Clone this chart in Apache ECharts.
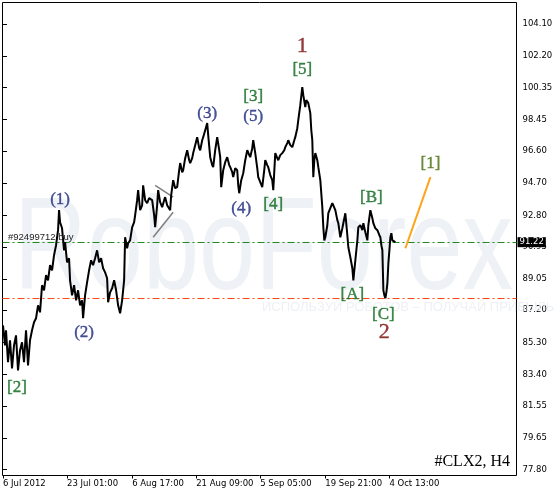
<!DOCTYPE html>
<html>
<head>
<meta charset="utf-8">
<script src="https://cdn.jsdelivr.net/npm/echarts@6/dist/echarts.min.js"></script>
<style>
html,body{margin:0;padding:0;background:#fff;}
#chart{width:556px;height:492px;}
</style>
</head>
<body>
<div id="chart"></div>
<script>
// ---- data (H4 bar index, price) ----
const bars = [0,2,3,5,7,9,11,13,15,17,19,21,23,25,27,29,31,33,35,37,39,41,43,45,47,49,51,53,55,56,57,59,61,62,64,66,67,69,71,73,75,77,79,80,82,84,86,88,90,92,94,96,98,100,102,104,105,107,109,111,113,115,117,119,121,122,124,125,127,129,131,132,134,135,137,139,140,142,144,146,149,151,152,154,155,157,159,161,162,164,167,168,170,172,174,176,177,179,180,182,184,186,187,189,190,192,194,196,197,199,200,202,204,205,207,209,210,212,214,216,217,218,220,222,224,226,227,229,230,232,234,235,236,238,240,242,244,246,247,249,250,252,254,255,257,259,261,262,264,265,267,269,270,272,274,275,277,279,281,282,284,285,287,289,291,292,294,295,297,299,300,302,303,305,307,308,309,310,311,312,314,315,317,319,320,321,322,324,325,327,329,330,332,334,335,337,339,340,342,344,345,347,349,350,351,352,354,355,357,359,360,362,364,365,367,369,370,372,374,376,377,378,379,380,381,382,383,384,385,386,387,388,389,390,392];
const prices = [86.31,85.13,86.02,84.13,85.43,83.77,85.13,85.72,83.65,84.83,85.31,84.13,86.02,83.95,85.43,86.02,86.49,86.73,87.49,87.08,88.68,88.38,89.27,88.97,89.86,89.56,90.45,91.04,91.93,93.11,92.40,92.04,90.74,91.22,90.03,90.27,88.97,88.08,88.68,87.79,88.38,87.49,87.79,86.73,88.08,88.85,89.56,90.15,89.86,90.27,90.74,90.03,90.27,89.68,89.44,89.09,87.67,88.26,88.50,88.97,88.38,87.49,87.02,87.79,88.97,91.51,90.86,91.16,91.33,92.10,92.40,92.81,93.70,94.29,93.11,93.40,94.58,93.70,93.52,93.82,93.70,92.81,92.10,93.40,94.29,93.58,93.29,93.70,93.88,93.40,93.11,93.99,94.88,94.41,94.47,95.47,95.89,95.35,95.47,96.18,96.65,96.06,95.89,96.18,96.48,96.95,97.42,96.77,96.65,97.24,97.42,97.83,98.25,97.54,96.24,95.77,95.65,96.65,97.42,96.65,96.24,94.47,95.47,95.94,96.24,95.77,95.65,95.35,95.06,95.59,95.47,94.58,94.11,94.88,95.29,96.06,96.65,96.36,96.24,96.77,97.24,96.48,95.59,95.06,94.76,94.47,95.47,96.06,95.77,95.65,95.18,94.88,94.29,96.48,96.18,96.06,96.36,96.48,96.65,96.83,97.07,97.24,96.95,96.83,97.24,97.42,97.95,98.43,99.31,100.38,99.90,99.19,99.61,99.43,98.84,97.83,97.24,95.06,96.06,96.48,96.06,95.65,94.88,93.29,92.10,91.33,91.51,92.22,92.93,93.23,93.52,93.40,93.11,92.52,92.34,91.51,92.04,92.34,92.93,91.63,90.92,90.33,89.68,88.97,89.56,90.15,91.33,92.10,92.22,91.93,92.34,91.81,91.33,92.22,93.11,92.63,92.34,92.04,91.93,91.63,91.51,91.04,90.74,88.38,88.08,87.91,88.26,88.79,89.97,90.74,91.51,91.75,91.33,91.33,91.22];

const xTickBars = [0,64,129,193,257,322,386];
const xTickLabels = ['6 Jul 2012','23 Jul 01:00','6 Aug 17:00','21 Aug 09:00','5 Sep 05:00','19 Sep 21:00','4 Oct 13:00'];
const yTickLabels = ['77.80','79.65','81.55','83.40','85.30','87.20','89.05','90.95','92.80','94.70','96.60','98.45','100.35','102.20','104.10'];
const yTickValues = yTickLabels.map(Number);

const currentPrice = 91.22;
const orderPrice = 91.22;
const stopPrice = 87.91;
const orderText = '#92499712 buy';

const projBars = [402,427];
const projPrices = [90.86,95.06];
const wedgeTopBars = [152,170];
const wedgeTopPrices = [94.58,93.88];
const wedgeBotBars = [150,170];
const wedgeBotPrices = [91.51,92.99];

const waveText  = ['1','[5]','(3)','[3]','(5)','(4)','[4]','(1)','(2)','[2]','[B]','[A]','[C]','2','[1]'];
const waveBar   = [299,299,204,250,250,238,270,57,81,14,368,349,380,381,427];
const wavePrice = [102.80,101.44,98.84,99.79,98.66,93.23,93.46,93.76,85.90,82.65,93.88,88.14,86.96,85.90,95.89];
const waveKind  = ['major','minor','sub','minor','sub','sub','minor','sub','sub','minor','minor','minor','minor','major','proj'];

const kindStyle = {
  major: {color:'#7A0A0A', fontSize:22},
  minor: {color:'#0E6A1E', fontSize:17},
  sub:   {color:'#1C2A80', fontSize:17},
  proj:  {color:'#4A6E10', fontSize:17}
};

const chart = echarts.init(document.getElementById('chart'), null, {renderer:'canvas'});
const pair = (xs, ys) => xs.map((x,i)=>[x, ys[i]]);

const option = {
  animation:false,
  backgroundColor:'#ffffff',
  grid:{left:2.5, right:39.5, top:2.5, bottom:16.5, show:true, borderColor:'#000', borderWidth:1, backgroundColor:'transparent'},
  xAxis:{
    type:'value', min:-0.5, max:513,
    axisLine:{show:false}, splitLine:{show:false},
    axisTick:{show:true, customValues:xTickBars, length:3, lineStyle:{color:'#000'}},
    axisLabel:{customValues:xTickBars, formatter:(v)=>xTickLabels[xTickBars.indexOf(Math.round(v))] || '',
      align:'left', margin:4, fontSize:8.5, fontFamily:'DejaVu Sans', color:'#000'}
  },
  yAxis:{
    type:'value', position:'right', min:77.445, max:105.371,
    axisLine:{show:false}, splitLine:{show:false},
    axisTick:{show:true, customValues:yTickValues, length:4, lineStyle:{color:'#000'}},
    axisLabel:{customValues:yTickValues, formatter:(v)=>v.toFixed(2), margin:6, fontSize:8.5, fontFamily:'DejaVu Sans', color:'#000'}
  },
  series:[
    {type:'line', data:[], silent:true, z:8,
     markLine:{silent:true, symbol:['none','none'], precision:2,
       data:[
         {yAxis:orderPrice, lineStyle:{color:'#1F8A1F', width:1, type:[7,3,2,3]},
          label:{show:true, position:'end', distance:1, formatter:currentPrice.toFixed(2),
            backgroundColor:'#000', color:'#fff', padding:[1,2,0,2], fontSize:8.5, fontFamily:'DejaVu Sans'}},
         {yAxis:stopPrice, lineStyle:{color:'#FF4A10', width:1, type:[7,3,2,3]}, label:{show:false}}
       ]}},
    {type:'line', data:pair(bars, prices), symbol:'none', z:5,
     lineStyle:{color:'#000', width:2}},
    {type:'line', data:pair(projBars, projPrices), symbol:'none', z:5, lineStyle:{color:'#FFA31A', width:2}},
    {type:'line', data:pair(wedgeTopBars, wedgeTopPrices), symbol:'none', z:4, lineStyle:{color:'#7f7f7f', width:1.5}},
    {type:'line', data:pair(wedgeBotBars, wedgeBotPrices), symbol:'none', z:4, lineStyle:{color:'#7f7f7f', width:1.5}},
    {type:'scatter', z:6, symbolSize:1, itemStyle:{color:'rgba(0,0,0,0)'},
     data: waveText.map((t,i)=>({name:t, value:[waveBar[i], wavePrice[i]],
       label:{show:true, position:'inside', formatter:t, fontFamily:'Liberation Serif',
         color:kindStyle[waveKind[i]].color, fontSize:kindStyle[waveKind[i]].fontSize,
         textBorderColor:kindStyle[waveKind[i]].color, textBorderWidth:0.4}}))}
  ]
};
chart.setOption(option);

const yOrd = chart.convertToPixel({yAxisIndex:0}, orderPrice);
chart.setOption({
  graphic:[
    {type:'text', z:1, silent:true, style:{text:'RoboForex', x:14, y:253, font:'131px "Liberation Sans"', fill:'#EEF1F5', verticalAlign:'middle', align:'left'}, scaleX:0.77, originX:14},
    {type:'text', z:1, silent:true, style:{text:'ИСПОЛЬЗУЙ РОБОТОВ – ПОЛУЧАЙ ПРИБЫЛЬ', x:262, y:307, font:'13px "Liberation Sans"', fill:'#EEF0F3', verticalAlign:'middle', align:'left'}},
    {type:'text', z:10, silent:true, style:{text:'#CLX2, H4', x:510, y:462, font:'16px "Liberation Serif"', fill:'#000', verticalAlign:'middle', align:'right'}},
    {type:'text', z:10, silent:true, style:{text:orderText, x:8, y:yOrd-5, font:'9.5px "Liberation Sans"', fill:'#222', verticalAlign:'middle', align:'left'}}
  ]
});
</script>
</body>
</html>
